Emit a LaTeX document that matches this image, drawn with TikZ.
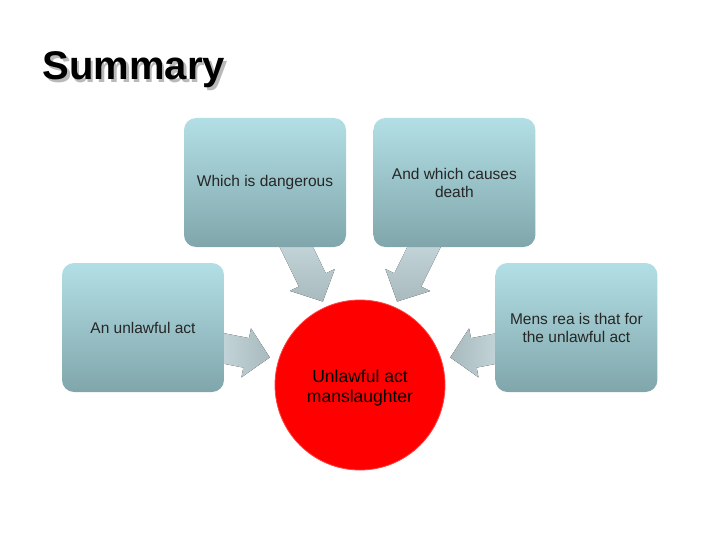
\documentclass[tikz,border=0pt]{standalone}
\usepackage{fontspec}
\setmainfont{Liberation Sans}
\usetikzlibrary{positioning, calc, backgrounds}

\definecolor{boxtop}{RGB}{178,223,229}
\definecolor{boxbottom}{RGB}{128,166,171}
\definecolor{arrowlight}{RGB}{200,217,222}
\definecolor{arrowdark}{RGB}{168,186,190}
\definecolor{titleshadow}{RGB}{185,185,185}
\definecolor{redfill}{RGB}{255,0,0}

% block arrow from start #1 to tip #2, fill options #3
\newcommand{\blockarrow}[3]{%
  \coordinate (hb) at ($(#2)!24pt!(#1)$);
  \fill[#3] ($(#1)!15pt!90:(#2)$) -- ($(hb)!15pt!90:(#2)$) -- ($(hb)!25pt!90:(#2)$) -- (#2)
    -- ($(hb)!25pt!-90:(#2)$) -- ($(hb)!15pt!-90:(#2)$) -- ($(#1)!15pt!-90:(#2)$) -- cycle;
}

\tikzset{
  infobox/.style={rounded corners=12pt, top color=boxtop, bottom color=boxbottom,
    minimum width=162pt, minimum height=129pt, align=center, text=black!85,
    font=\fontsize{15.5}{18}\selectfont},
  hub/.style={circle, fill=redfill, draw=red!75!white, line width=0.8pt,
    minimum size=170pt, align=center, text=black,
    font=\fontsize{17.5}{20}\selectfont},
  titletext/.style={anchor=base west, font=\bfseries\fontsize{40}{48}\selectfont}
}

\begin{document}
\begin{tikzpicture}[x=1pt, y=-1pt]
	\useasboundingbox (0,0) rectangle (720,540);

	\node[titletext, text=titleshadow] (titleshade) at (41.5,82.5) {Summary};
	\node[titletext, text=black] (title) at (39,80) {Summary};

	\node[infobox] (tl) at (265,182.5) {Which is dangerous};
	\node[infobox, right=27pt of tl] (tr) {And which causes\\death};
	\node[infobox] (lt) at (143,327.5) {An unlawful act};
	\node[infobox, right=271pt of lt] (rt) {Mens rea is that for\\the unlawful act};
	\node[hub] (c) at (360,385) {};
	\node[hub, draw=none, fill=none, minimum size=0pt] (clabel) at (360,388) {Unlawful act\\manslaughter};

	% arrow ends
	\coordinate (s1) at ($(tl.south)+(28,-7)$);
	\coordinate (s2) at ($(tr.south)+(-27,-7)$);
	\coordinate (s3) at ($(lt.east)+(-8,19.5)$);
	\coordinate (s4) at ($(rt.west)+(9,19.5)$);
	\coordinate (t1) at ($(c.center)!1.07!(c.114)$);
	\coordinate (t2) at ($(c.center)!1.07!(c.66)$);
	\coordinate (t3) at ($(c.center)!1.105!(c.163)$);
	\coordinate (t4) at ($(c.center)!1.105!(c.17)$);

	\begin{scope}[on background layer]
		\blockarrow{s1}{t1}{top color=arrowlight, bottom color=arrowdark}
		\blockarrow{s2}{t2}{top color=arrowlight, bottom color=arrowdark}
		\blockarrow{s3}{t3}{left color=arrowlight, right color=arrowdark}
		\blockarrow{s4}{t4}{right color=arrowlight, left color=arrowdark}
	\end{scope}
\end{tikzpicture}
\end{document}
